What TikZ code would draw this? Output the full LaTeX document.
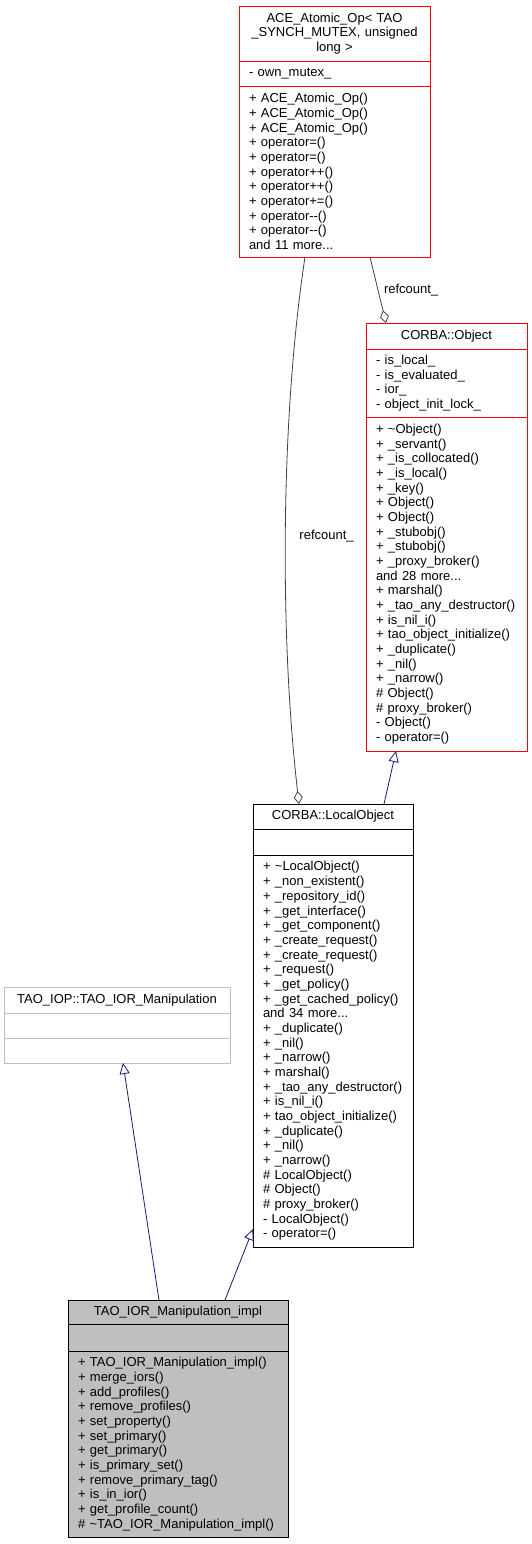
\documentclass[tikz,border=0pt]{standalone}
\usepackage{fontspec}
\setmainfont{Liberation Sans}
\usetikzlibrary{arrows.meta,positioning}
\definecolor{navyline}{HTML}{191970}

\begin{document}
\begin{tikzpicture}[
  x=1pt,
  y=-1pt,
  every node/.style={font=\fontsize{13}{14.67}\selectfont, outer sep=0pt, inner xsep=10pt, inner ysep=0pt},
  head/.style={draw, line width=0.9pt, anchor=north west, align=center},
  part/.style={draw, line width=0.9pt, align=left},
  redline/.style={draw=red},
  blackline/.style={draw=black},
  greyline/.style={draw=black!25},
  greyfill/.style={draw=black, fill=black!25},
  edgelabel/.style={inner xsep=1pt},
  inherit/.style={draw=navyline, line width=0.8pt, -{Triangle[open, length=11pt, width=10pt]}},
  member/.style={draw=black!75, line width=0.8pt, -{Diamond[open, length=13pt, width=9pt]}}
]
\useasboundingbox (0,0) rectangle (532,1544);

% ACE_Atomic_Op
\node[head, redline, text width=171, minimum height=55] (acehead) at (239,6)
  {ACE\_Atomic\_Op< TAO\\\_SYNCH\_MUTEX, unsigned\\long >};
\node[part, redline, text width=171, minimum height=25, below=0pt of acehead] (aceattr)
  {- own\_mutex\_};
\node[part, redline, text width=171, minimum height=171, below=0pt of aceattr] (aceops)
  {+ ACE\_Atomic\_Op()\\+ ACE\_Atomic\_Op()\\+ ACE\_Atomic\_Op()\\+ operator=()\\+ operator=()\\
   + operator++()\\+ operator++()\\+ operator+=()\\+ operator-{}-()\\+ operator-{}-()\\and 11 more...};

% CORBA::Object
\node[head, redline, text width=141, minimum height=26] (objhead) at (366,323) {CORBA::Object};
\node[part, redline, text width=141, minimum height=68, below=0pt of objhead] (objattr)
  {- is\_local\_\\- is\_evaluated\_\\- ior\_\\- object\_init\_lock\_};
\node[part, redline, text width=141, minimum height=334, below=0pt of objattr] (objops)
  {+ \textasciitilde Object()\\+ \_servant()\\+ \_is\_collocated()\\+ \_is\_local()\\+ \_key()\\
   + Object()\\+ Object()\\+ \_stubobj()\\+ \_stubobj()\\+ \_proxy\_broker()\\and 28 more...\\
   + marshal()\\+ \_tao\_any\_destructor()\\+ is\_nil\_i()\\+ tao\_object\_initialize()\\
   + \_duplicate()\\+ \_nil()\\+ \_narrow()\\\# Object()\\\# proxy\_broker()\\- Object()\\- operator=()};

% CORBA::LocalObject
\node[head, blackline, text width=140, minimum height=25] (lohead) at (253,804) {CORBA::LocalObject};
\node[part, blackline, text width=140, minimum height=26, below=0pt of lohead] (loattr) {};
\node[part, blackline, text width=140, minimum height=392, below=0pt of loattr] (loops)
  {+ \textasciitilde LocalObject()\\+ \_non\_existent()\\+ \_repository\_id()\\+ \_get\_interface()\\
   + \_get\_component()\\+ \_create\_request()\\+ \_create\_request()\\+ \_request()\\
   + \_get\_policy()\\+ \_get\_cached\_policy()\\and 34 more...\\+ \_duplicate()\\+ \_nil()\\
   + \_narrow()\\+ marshal()\\+ \_tao\_any\_destructor()\\+ is\_nil\_i()\\+ tao\_object\_initialize()\\
   + \_duplicate()\\+ \_nil()\\+ \_narrow()\\\# LocalObject()\\\# Object()\\\# proxy\_broker()\\
   - LocalObject()\\- operator=()};

% TAO_IOP::TAO_IOR_Manipulation
\node[head, greyline, text width=206, minimum height=26] (iophead) at (4,987) {TAO\_IOP::TAO\_IOR\_Manipulation};
\node[part, greyline, text width=206, minimum height=25, below=0pt of iophead] (iopattr) {};
\node[part, greyline, text width=206, minimum height=25, below=0pt of iopattr] (iopops) {};

% TAO_IOR_Manipulation_impl
\node[head, greyfill, text width=200, minimum height=24] (implhead) at (68,1300) {TAO\_IOR\_Manipulation\_impl};
\node[part, greyfill, text width=200, minimum height=27, below=0pt of implhead] (implattr) {};
\node[part, greyfill, text width=200, minimum height=186, below=0pt of implattr] (implops)
  {+ TAO\_IOR\_Manipulation\_impl()\\+ merge\_iors()\\+ add\_profiles()\\+ remove\_profiles()\\
   + set\_property()\\+ set\_primary()\\+ get\_primary()\\+ is\_primary\_set()\\
   + remove\_primary\_tag()\\+ is\_in\_ior()\\+ get\_profile\_count()\\\# \textasciitilde TAO\_IOR\_Manipulation\_impl()};

% relations
\draw[member] ([xshift=35.5pt]aceops.south) -- node[edgelabel, right=5pt] (rcright) {refcount\_} ([xshift=-60.5pt]objhead.north);
\draw[member] ([xshift=-29.5pt]aceops.south) .. controls +(-25,165) and +(-19,-165) ..
  node[edgelabel, pos=0.51, right=13pt] (rcleft) {refcount\_} ([xshift=-34pt]lohead.north);
\draw[inherit] ([xshift=51pt]lohead.north) -- ([xshift=-50.5pt]objops.south);
\draw[inherit] ([xshift=-19pt]implhead.north) -- ([xshift=6pt]iopops.south);
\draw[inherit] ([xshift=47pt]implhead.north) -- ([yshift=18pt]loops.south west);

\end{tikzpicture}
\end{document}
